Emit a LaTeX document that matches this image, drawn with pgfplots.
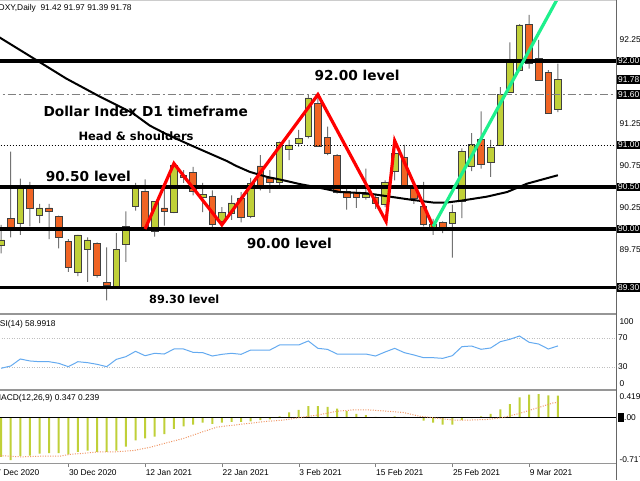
\documentclass[border=0pt]{standalone}
\usepackage{pgfplots}
\pgfplotsset{compat=1.18}
\usepackage{pgfplotstable}
\usepackage{fontspec}
\setmainfont{Liberation Sans}
\newfontfamily\annot{DejaVu Sans}

\definecolor{bull}{RGB}{192,208,56}
\definecolor{bear}{RGB}{240,100,36}
\definecolor{wick}{RGB}{115,115,115}
\definecolor{rsiblue}{RGB}{100,170,240}
\definecolor{signal}{RGB}{240,150,100}
\definecolor{trend}{RGB}{30,240,140}
\definecolor{framegray}{RGB}{150,150,150}

% daily candles, k = bar index (0 = 30 Dec 2020)
\pgfplotstableread{
k O H L C
-7 89.80 90.05 89.71 89.87
-6 90.13 90.92 89.90 90.02
-5 90.07 90.60 89.93 90.48
-4 90.48 90.56 90.03 90.24
-3 90.16 90.30 90.07 90.25
-2 90.25 90.30 89.88 90.21
-1 90.15 90.16 89.77 89.90
0 89.85 89.88 89.49 89.54
1 89.48 89.93 89.44 89.93
2 89.76 89.90 89.37 89.87
3 89.83 89.84 89.42 89.45
4 89.36 89.78 89.15 89.33
5 89.31 89.95 89.30 89.76
6 89.82 90.21 89.61 90.03
7 90.27 90.55 90.22 90.52
8 90.45 90.59 90.00 90.00
9 89.97 90.33 89.91 90.33
10 90.25 90.51 90.04 90.21
11 90.20 90.80 90.19 90.76
12 90.64 90.70 90.55 90.62
13 90.67 90.74 90.40 90.45
14 90.38 90.55 90.20 90.41
15 90.39 90.46 90.01 90.05
16 90.09 90.26 90.03 90.20
17 90.19 90.40 90.11 90.31
18 90.37 90.44 90.08 90.14
19 90.15 90.61 90.13 90.54
20 90.75 90.88 90.46 90.52
21 90.60 90.70 90.43 90.55
22 90.55 91.04 90.52 91.03
23 90.95 91.06 90.82 91.00
24 91.02 91.18 90.98 91.08
25 91.10 91.60 91.08 91.56
26 91.49 91.62 90.98 90.98
27 91.09 91.22 90.88 90.90
28 90.88 90.89 90.42 90.44
29 90.45 90.48 90.23 90.38
30 90.44 90.48 90.25 90.38
31 90.38 90.72 90.35 90.41
32 90.38 90.42 90.24 90.31
33 90.29 90.58 90.26 90.55
34 90.69 91.00 90.58 90.90
35 90.85 91.00 90.50 90.52
36 90.51 90.55 90.30 90.37
37 90.27 90.56 90.03 90.05
38 90.02 90.12 89.93 90.06
39 90.08 90.09 89.95 90.01
40 90.07 90.29 89.66 90.20
41 90.33 90.96 90.13 90.92
42 90.74 91.14 90.69 91.01
43 91.07 91.40 90.72 90.77
44 90.79 91.06 90.62 90.97
45 90.99 91.69 90.99 91.60
46 91.63 92.22 91.63 91.99
47 91.89 92.44 91.88 92.43
48 92.44 92.55 91.91 91.97
49 92.03 92.25 91.77 91.77
50 91.86 91.89 91.37 91.38
51 91.42 91.97 91.39 91.78
}\candles

\pgfplotstableread{
k v
-7 28.4
-6 31.5
-5 41.1
-4 38.4
-3 37.4
-2 37.4
-1 35.2
0 30.6
1 37.4
2 36.1
3 33.8
4 30.6
5 40.6
6 44.3
7 51.6
8 45.6
9 48.9
10 47.9
11 54.8
12 54.8
13 50.2
14 49.8
15 45.2
16 47.5
17 48.9
18 47.5
19 53.4
20 53.4
21 53.4
22 60.3
23 60.3
24 60.3
25 65.8
26 55.7
27 54.3
28 47.9
29 47.9
30 47.9
31 47.9
32 45.2
33 50.7
34 55.7
35 49.8
36 46.6
37 42.9
38 42.9
39 42.0
40 45.6
41 58.0
42 58.9
43 54.4
44 56.2
45 64.8
46 68.1
47 72.6
48 64.0
49 61.6
50 54.8
51 58.99
}\rsi

\pgfplotstableread{
k m
-7 -0.62
-6 -0.67
-5 -0.61
-4 -0.60
-3 -0.57
-2 -0.56
-1 -0.56
0 -0.58
1 -0.54
2 -0.52
3 -0.54
4 -0.54
5 -0.52
6 -0.46
7 -0.36
8 -0.33
9 -0.30
10 -0.26
11 -0.18
12 -0.14
13 -0.11
14 -0.08
15 -0.10
16 -0.08
17 -0.07
18 -0.07
19 -0.06
20 -0.04
21 -0.03
22 0.02
23 0.08
24 0.12
25 0.18
26 0.18
27 0.17
28 0.14
29 0.10
30 0.06
31 0.04
32 0.01
33 0.005
34 0.02
35 0.01
36 0.003
37 -0.05
38 -0.08
39 -0.11
40 -0.11
41 -0.04
42 -0.01
43 0.02
44 0.06
45 0.13
46 0.21
47 0.32
48 0.36
49 0.37
50 0.35
51 0.347
}\macd

\pgfplotsset{
  panel/.style={scale only axis, width=616pt, xmin=-7.115, xmax=57.052,
    anchor=south west, axis line style={draw=none}, xtick=\empty,
    ytick pos=right, yticklabel pos=right, major tick length=0pt,
    ytick style={draw=none},
    ticklabel style={font=\fontsize{8.4}{10}\selectfont, text=black},
    yticklabel style={anchor=west, inner ysep=1.5pt, inner xsep=3.5pt}},
  pricepanel/.style={panel, at={(0pt,167pt)}, height=312pt,
    ymin=89.0, ymax=92.714},
}

\begin{document}
\begin{tikzpicture}[x=1pt,y=1pt]
\fill[white] (0,0) rectangle (640,480);

% wicks
\begin{axis}[pricepanel, ytick=\empty, ybar stacked, bar width=1pt]
  \addplot[draw=none, fill=none] table[x=k, y=L] \candles;
  \addplot[draw=none, fill=wick] table[x=k, y expr=\thisrow{H}-\thisrow{L}] \candles;
\end{axis}

% bodies
\begin{axis}[pricepanel, ytick=\empty, ybar stacked, bar width=6.6pt]
  \addplot[draw=none, fill=none] table[x=k, y expr={min(\thisrow{O},\thisrow{C})}] \candles;
  \addplot[draw=black!75, fill=bull, line width=0.7pt] table[x=k, y expr={max(\thisrow{C}-\thisrow{O},0)}] \candles;
  \addplot[draw=black!75, fill=bear, line width=0.7pt] table[x=k, y expr={max(\thisrow{O}-\thisrow{C},0)}] \candles;
\end{axis}

% levels, moving average, patterns
\begin{axis}[pricepanel,
  ytick={89.75,90.25,90.75,91.25,92.25},
  yticklabels={89.75,90.25,90.75,91.25,92.25},
  extra y ticks={89.3,90,90.5,91,91.6,91.78,92},
  extra y tick labels={89.30,90.00,90.50,91.00,91.60,91.78,92.00},
  extra y tick style={yticklabel style={fill=black, text=white, inner xsep=2pt}}]
  \addplot[black, line width=2.6pt] coordinates {(-8,89.3) (58,89.3)};
  \addplot[black, line width=3.2pt] coordinates {(-8,90) (58,90)};
  \addplot[black, line width=3.2pt] coordinates {(-8,90.5) (58,90.5)};
  \addplot[black, line width=0.6pt, dash pattern=on 1pt off 2pt] coordinates {(-8,91) (58,91)};
  \addplot[gray, line width=0.8pt, dash pattern=on 8pt off 3pt on 2pt off 3pt] coordinates {(-8,91.6) (58,91.6)};
  \addplot[black, line width=3.2pt] coordinates {(-8,92) (58,92)};
  \addplot[black, line width=2pt, line join=round] coordinates {
    (-7.3,92.29) (-3.6,92.03) (-0.2,91.79) (3.3,91.575) (6.7,91.38)
    (8.5,91.23) (10.2,91.13) (12.7,91.00) (15.5,90.86) (16.5,90.81)
    (17.5,90.75) (18.9,90.68) (20.7,90.62) (22.4,90.58) (24.1,90.535)
    (26.2,90.49) (28.3,90.44) (31.1,90.425) (33.2,90.39) (35.6,90.35)
    (38,90.315) (39.4,90.315) (40.8,90.335) (43.6,90.385) (45.7,90.44)
    (47.8,90.54) (51,90.64)};
  \addplot[red, line width=3.2pt] coordinates {
    (8,90.0) (11,90.78) (16,90.05) (26,91.6) (33.1,90.09) (34,91.05) (38,90.03)};
  \addplot[trend, line width=3.2pt] coordinates {(38,90.03) (52,92.96)};
\end{axis}

% RSI
\begin{axis}[panel, at={(0pt,91pt)}, height=73pt, ymin=0, ymax=100,
  ytick={30,70}, yticklabels={30,70},
  yticklabel style={inner xsep=2pt}]
  \addplot[black!25, line width=0.6pt, dash pattern=on 1pt off 1.5pt] coordinates {(-8,70) (58,70)};
  \addplot[black!25, line width=0.6pt, dash pattern=on 1pt off 1.5pt] coordinates {(-8,30) (58,30)};
  \addplot[rsiblue, line width=1pt] table[x=k, y=v] \rsi;
\end{axis}

% MACD
\begin{axis}[panel, at={(0pt,17pt)}, height=72pt, ymin=-0.717, ymax=0.419,
  ytick=\empty,
  xtick={0,8,...,48}, xtick pos=bottom,
  xticklabels={30 Dec 2020,12 Jan 2021,22 Jan 2021,3 Feb 2021,15 Feb 2021,25 Feb 2021,9 Mar 2021},
  xticklabel style={anchor=north west, inner sep=0.5pt, yshift=-1.5pt},
  tick align=outside, major tick length=4pt, xtick style={draw=gray}]
  \addplot[ybar, bar width=2pt, fill=bull, draw=none] table[x=k, y=m] \macd;
  \addplot[black, line width=1.2pt] coordinates {(-8,0) (58,0)};
  \addplot[signal, line width=1pt, dash pattern=on 1pt off 1.5pt] coordinates {
    (-7.1,-0.60) (-5,-0.62) (-2.9,-0.61) (-0.9,-0.61) (0.2,-0.58) (1.9,-0.56)
    (3.3,-0.54) (5,-0.54) (6.8,-0.52) (8.5,-0.47) (10.2,-0.40) (12,-0.33)
    (13.7,-0.24) (15.5,-0.15) (17.2,-0.12) (18.9,-0.09) (20.7,-0.06)
    (22.4,-0.04) (24.1,0.00) (26,0.04) (28,0.10) (29.7,0.12) (31.4,0.12)
    (33.2,0.10) (34.9,0.08) (36.6,0.02) (38.4,-0.01) (40.1,-0.04)
    (41.8,-0.04) (43.6,-0.03) (45.3,0.00) (47.1,0.07) (48.8,0.15)
    (50.5,0.23) (51,0.239)};
\end{axis}

% window frame
\draw[framegray, line width=2pt] (0,166) -- (616,166);
\draw[framegray, line width=2pt] (0,90.5) -- (616,90.5);
\draw[black!20, line width=0.8pt] (0,479.5) -- (616,479.5);
\draw[framegray, line width=0.8pt] (0,17) -- (616,17);
\draw[black!60, line width=0.8pt] (616,0) -- (616,480);

% panel texts
\begin{scope}[every node/.style={inner sep=0pt, font=\fontsize{8.4}{10}\selectfont}]
  \node[anchor=base west] at (-1.5,469) {DXY,Daily\ \ 91.42 91.97 91.39 91.78};
  \node[anchor=base west] at (-6.3,154) {RSI(14) 58.9918};
  \node[anchor=base west] at (-6,79.3) {MACD(12,26,9) 0.347 0.239};
  \node[anchor=west] at (619.3,158.3) {100};
  \node[anchor=west] at (619.3,96.7) {0};
  \node[anchor=west] at (619.3,83.3) {0.419};
  \node[anchor=west] at (619.3,62.4) {0.00};
  \node[anchor=west] at (619.3,20.7) {-0.717};
  \node[anchor=north west] at (-8.5,11) {17 Dec 2020};
\end{scope}
\fill[black] (617.7,58) rectangle (623.6,66.8);

% annotations
\begin{scope}[every node/.style={inner sep=0pt, anchor=base west}]
  \node[font=\annot\bfseries\fontsize{13.7}{15}\selectfont] at (43.3,363.3) {Dollar Index D1 timeframe};
  \node[font=\annot\bfseries\fontsize{11.5}{13}\selectfont] at (78.3,339.3) {Head \& shoulders};
  \node[font=\annot\bfseries\fontsize{13.7}{15}\selectfont] at (314.3,399) {92.00 level};
  \node[font=\annot\bfseries\fontsize{13.7}{15}\selectfont] at (45.7,298.3) {90.50 level};
  \node[font=\annot\bfseries\fontsize{13.7}{15}\selectfont] at (246.7,231) {90.00 level};
  \node[font=\annot\bfseries\fontsize{11.3}{13}\selectfont] at (149,176.7) {89.30 level};
\end{scope}

\pgfresetboundingbox
\useasboundingbox (0,0) rectangle (640,480);
\end{tikzpicture}
\end{document}
